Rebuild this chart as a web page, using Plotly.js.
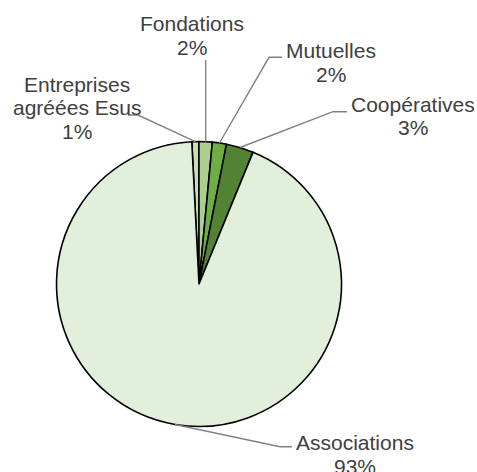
<!DOCTYPE html>
<html>
<head>
<meta charset="utf-8">
<script src="https://cdn.plot.ly/plotly-3.0.1.min.js"></script>
<style>
  html, body { margin: 0; padding: 0; background: #ffffff; }
  #chart { width: 477px; height: 472px; }
</style>
</head>
<body>
<div id="chart"></div>
<script>
// ---- Data ----
var categories = ['Entreprises agréées Esus', 'Fondations', 'Mutuelles', 'Coopératives', 'Associations'];
var values = [0.8, 1.5, 1.6, 3.1, 93.0];
var labelLines = [['Entreprises', 'agréées Esus'], ['Fondations'], ['Mutuelles'], ['Coopératives'], ['Associations']];
var colors = ['#C6E0B4', '#A9D08E', '#70AD47', '#548235', '#E2EFDA'];

// ---- Layout constants (pixels) ----
var W = 477, H = 472;
var CX = 199, CY = 284, R = 142.5;
var ROT = -2.9;            // start angle of first slice, deg clockwise from 12 o'clock
var FS = 21, LH = 23.5;    // font size, line height
// label placement: text centre x, first baseline y, elbow point, end of leader
var labelPos = [
  {x: 76.5,  y: 91.5,  elbow: [138, 115],   end: [128, 115]},
  {x: 191.5, y: 31,    elbow: null,         end: null, vertTo: 60},
  {x: 331,   y: 58.3,  elbow: [269, 57.3],  end: [282, 57.3]},
  {x: 412.5, y: 111.7, elbow: [333, 111.7], end: [347, 111.7]},
  {x: 355,   y: 450,   elbow: [280, 446.7], end: [292, 446.7]}
];

function px2x(p) { return p / W; }
function py2y(p) { return 1 - p / H; }

var total = values.reduce(function (a, b) { return a + b; }, 0);
var annotations = [];
var shapes = [];
var cum = 0;
for (var i = 0; i < values.length; i++) {
  var mid = ROT + (cum + values[i] / 2) / total * 360;
  cum += values[i];
  var th = mid * Math.PI / 180;
  var rx = CX + R * Math.sin(th), ry = CY - R * Math.cos(th);
  var lp = labelPos[i];
  var path;
  if (lp.elbow) {
    path = 'M' + px2x(rx) + ',' + py2y(ry) + ' L' + px2x(lp.elbow[0]) + ',' + py2y(lp.elbow[1]) +
           ' L' + px2x(lp.end[0]) + ',' + py2y(lp.end[1]);
  } else {
    path = 'M' + px2x(rx) + ',' + py2y(ry) + ' L' + px2x(rx) + ',' + py2y(lp.vertTo);
  }
  shapes.push({type: 'path', xref: 'paper', yref: 'paper', path: path,
               line: {color: '#808080', width: 1.4}, layer: 'above'});
  var pct = Math.round(values[i] / total * 100 + 1e-9) + '%';
  var lines = labelLines[i].concat([pct]);
  for (var k = 0; k < lines.length; k++) {
    var base = lp.y + k * LH;
    annotations.push({
      xref: 'paper', yref: 'paper', x: px2x(lp.x), y: py2y(base - 0.35 * FS),
      xanchor: 'center', yanchor: 'middle', showarrow: false,
      text: lines[k],
      font: {family: 'Liberation Sans, Arial, sans-serif', size: FS, color: '#404040'}
    });
  }
}

var trace = {
  type: 'pie',
  labels: categories,
  values: values,
  sort: false,
  direction: 'clockwise',
  rotation: ROT,
  textinfo: 'none',
  hoverinfo: 'label+percent',
  marker: {colors: colors, line: {color: '#000000', width: 1.6}},
  domain: {x: [px2x(CX - R), px2x(CX + R)], y: [py2y(CY + R), py2y(CY - R)]},
  showlegend: false
};

var layout = {
  width: W, height: H,
  margin: {l: 0, r: 0, t: 0, b: 0},
  paper_bgcolor: '#ffffff',
  plot_bgcolor: '#ffffff',
  showlegend: false,
  annotations: annotations,
  shapes: shapes
};

Plotly.newPlot('chart', [trace], layout, {displayModeBar: false, staticPlot: true});
</script>
</body>
</html>
